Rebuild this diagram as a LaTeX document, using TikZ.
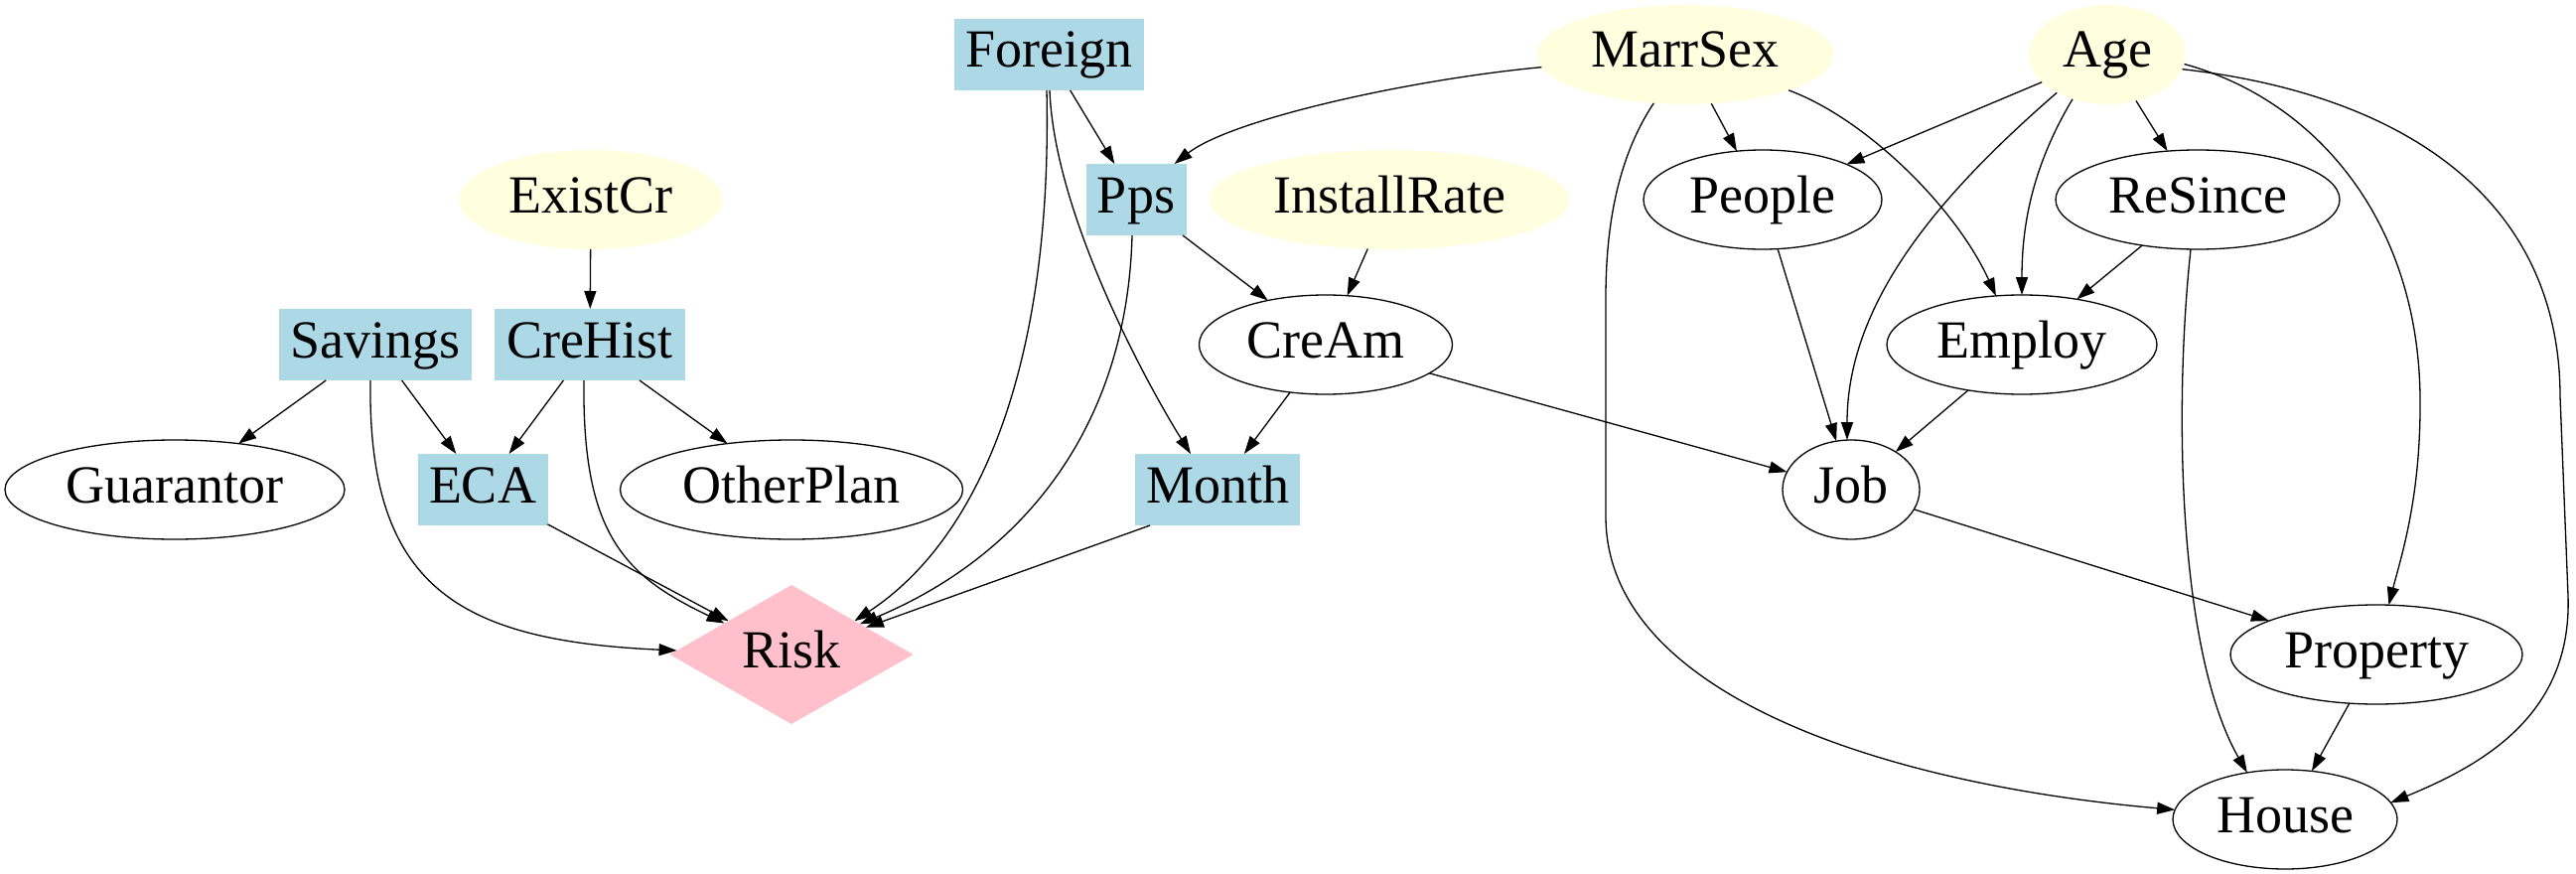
\documentclass[tikz,border=0pt]{standalone}
\usepackage{fontspec}
\setmainfont{Liberation Serif}
\newfontfamily\graphfont{Liberation Serif}
\usetikzlibrary{shapes.geometric,arrows.meta}
\definecolor{lblue}{RGB}{173,216,230}
\definecolor{lyellow}{RGB}{255,255,224}
\definecolor{lpink}{RGB}{255,192,203}
\begin{document}
\begin{tikzpicture}[x=1pt,y=-1pt,
 base/.style={font=\graphfont\fontsize{54}{60}\selectfont, text height=40pt, text depth=14pt, inner sep=0pt, outer sep=0pt},
 wnode/.style={base, ellipse, draw, line width=1.3pt, minimum height=100pt},
 ynode/.style={base, ellipse, fill=lyellow, minimum height=100pt},
 bnode/.style={base, rectangle, fill=lblue, minimum height=72pt},
 rnode/.style={base, diamond, aspect=1.75, fill=lpink},
 arr/.style={-{Triangle[length=18pt,width=12pt]}, line width=1.3pt},
]
\useasboundingbox (0,0) rectangle (2594,880);
% nodes
\node[bnode, minimum width=191pt] (foreign) at (1056,55) {Foreign};
\node[ynode, minimum width=299pt] (marrsex) at (1697,55) {MarrSex};
\node[ynode, minimum width=158pt] (age) at (2122,55) {Age};
\node[ynode, minimum width=265pt] (existcr) at (595,201) {ExistCr};
\node[bnode, minimum width=101pt] (pps) at (1144,201) {Pps};
\node[ynode, minimum width=363pt] (installrate) at (1399,201) {InstallRate};
\node[wnode, minimum width=240pt] (people) at (1775,201) {People};
\node[wnode, minimum width=286pt] (resince) at (2213,201) {ReSince};
\node[bnode, minimum width=194pt] (savings) at (378,347) {Savings};
\node[bnode, minimum width=192pt] (crehist) at (594,347) {CreHist};
\node[wnode, minimum width=255pt] (cream) at (1335,347) {CreAm};
\node[wnode, minimum width=272pt] (employ) at (2036,347) {Employ};
\node[wnode, minimum width=342pt] (guarantor) at (176,493) {Guarantor};
\node[bnode, minimum width=131pt] (eca) at (486,493) {ECA};
\node[wnode, minimum width=345pt] (otherplan) at (797,493) {OtherPlan};
\node[bnode, minimum width=166pt] (month) at (1226,493) {Month};
\node[wnode, minimum width=138pt] (job) at (1864,493) {Job};
\node[rnode, minimum width=245pt, minimum height=140pt] (risk) at (797,659) {Risk};
\node[wnode, minimum width=294pt] (property) at (2393,659) {Property};
\node[wnode, minimum width=226pt] (house) at (2301,825) {House};
% edges, left part
\draw[arr] (existcr) -- (crehist);
\draw[arr] (savings) -- (guarantor);
\draw[arr] (savings) -- (eca);
\draw[arr] (crehist) -- (eca);
\draw[arr] (crehist) -- (otherplan);
\draw[arr] ([xshift=-5pt]savings.south) .. controls (370,590) and (460,645) .. (risk.178);
\draw[arr] ([xshift=-6pt]crehist.south) .. controls (586,540) and (630,580) .. (risk.155);
\draw[arr] (eca) -- (risk);
% middle part
\draw[arr] (foreign) -- (pps);
\draw[arr] ([xshift=-2pt]foreign.south) .. controls (1060,360) and (990,540) .. (risk.28);
\draw[arr] ([xshift=1pt]foreign.south) .. controls (1062,220) and (1160,395) .. ([xshift=-27pt]month.north);
\draw[arr] ([xshift=-4pt]pps.south) .. controls (1135,430) and (1030,560) .. (risk.24);
\draw[arr] ([xshift=15pt]month.south west) -- (risk.20);
\draw[arr] (pps) -- (cream);
\draw[arr] (installrate) -- (cream);
\draw[arr] (cream) -- (month);
\draw[arr] (cream) -- (job);
\draw[arr] (marrsex.185) .. controls (1420,80) and (1240,120) .. (pps.43);
% right part
\draw[arr] (marrsex) -- (people);
\draw[arr] (marrsex.-19) .. controls (1880,120) and (1970,210) .. (employ.118);
\draw[arr] (marrsex.237) .. controls (1628,160) and (1617,230) .. (1617,300) -- (1617,520) .. controls (1617,700) and (1900,790) .. (house.175);
\draw[arr] (age) -- (people);
\draw[arr] (age) -- (resince);
\draw[arr] (age.217) .. controls (1960,190) and (1860,300) .. ([xshift=-4pt]job.north);
\draw[arr] (age.232) .. controls (2045,170) and (2036,230) .. (employ.north);
\draw[arr] (age.-7) .. controls (2330,100) and (2435,220) .. (2437,400) .. controls (2438,500) and (2418,560) .. (property.76);
\draw[arr] (age.-11) .. controls (2420,95) and (2578,200) .. (2578,400) -- (2586,600) .. controls (2590,720) and (2500,770) .. (house.9);
\draw[arr] (resince.-98) .. controls (2188,420) and (2195,660) .. (house.129);
\draw[arr] (people) -- (job);
\draw[arr] (resince) -- (employ);
\draw[arr] (employ) -- (job);
\draw[arr] (job) -- (property);
\draw[arr] (property) -- (house);
\end{tikzpicture}
\end{document}
